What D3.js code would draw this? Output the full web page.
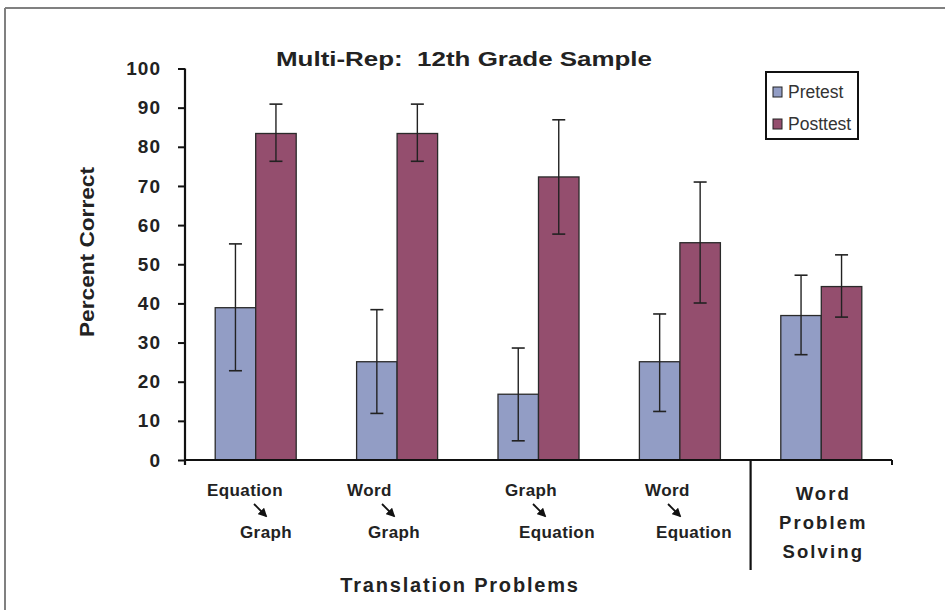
<!DOCTYPE html>
<html><head><meta charset="utf-8">
<script src="https://cdn.jsdelivr.net/npm/d3@7"></script>
<style>
body{margin:0;background:#fff;}
svg text{font-family:"Liberation Sans",Arial,Helvetica,sans-serif;}
</style></head>
<body><svg id="c" width="945" height="610"></svg>
<script>
const categories = ["EqGraph","WordGraph","GraphEq","WordEq","WPS"];
const series = ["Pretest","Posttest"];
const pretest = [38.9, 25.1, 16.8, 25.1, 36.9];
const posttest = [83.4, 83.4, 72.3, 55.5, 44.3];
const preLow = [22.8, 11.9, 4.9, 12.4, 26.9];
const preHigh = [55.2, 38.4, 28.6, 37.3, 47.2];
const postLow = [76.3, 76.3, 57.7, 40.1, 36.5];
const postHigh = [90.9, 90.9, 86.9, 71.0, 52.4];
const yTicks = [0,10,20,30,40,50,60,70,80,90,100];
const labelTop = ["Equation","Word","Graph","Word"];
const labelBottom = ["Graph","Graph","Equation","Equation"];
const wpsLabel = ["Word","Problem","Solving"];
const colors = ["#929dc5","#944e6e"];

const svg = d3.select("#c");
const defs = svg.append("defs");
defs.append("marker").attr("id","ah").attr("viewBox","0 0 10 10").attr("refX",8).attr("refY",5)
  .attr("markerWidth",5).attr("markerHeight",5).attr("orient","auto")
  .append("path").attr("d","M0,0L10,5L0,10z").attr("fill","#111");

// frame
svg.append("line").attr("x1",5).attr("x2",945).attr("y1",8).attr("y2",8).attr("stroke","#808080").attr("stroke-width",2);
svg.append("line").attr("x1",5).attr("x2",5).attr("y1",8).attr("y2",610).attr("stroke","#808080").attr("stroke-width",2);

const L=185, R=892, T=68.5, B=460;
const x0 = d3.scaleBand().domain(categories).range([L,R]).padding(0);
const x1 = d3.scaleBand().domain(series).range([30.2, 111.2]).padding(0);
const y = d3.scaleLinear().domain([0,100]).range([B,T]);

// bars
const rows = categories.map((c,i)=>({c, vals:[
  {s:"Pretest", v:pretest[i], lo:preLow[i], hi:preHigh[i]},
  {s:"Posttest", v:posttest[i], lo:postLow[i], hi:postHigh[i]}]}));
const g = svg.append("g");
const grp = g.selectAll("g.grp").data(rows).join("g").attr("transform",d=>`translate(${x0(d.c)},0)`);
grp.selectAll("rect").data(d=>d.vals).join("rect")
  .attr("x",d=>x1(d.s)).attr("width",x1.bandwidth()).attr("y",d=>y(d.v)).attr("height",d=>B-y(d.v))
  .attr("fill",(d,i)=>colors[i]).attr("stroke","#2a2a2a").attr("stroke-width",1.3);
const eb = grp.selectAll("g.eb").data(d=>d.vals).join("g")
  .attr("transform",d=>`translate(${x1(d.s)+x1.bandwidth()/2},0)`);
eb.append("line").attr("y1",d=>y(d.lo)).attr("y2",d=>y(d.hi)).attr("stroke","#222").attr("stroke-width",1.4);
eb.append("line").attr("x1",-6.5).attr("x2",6.5).attr("y1",d=>y(d.hi)).attr("y2",d=>y(d.hi)).attr("stroke","#222").attr("stroke-width",1.6);
eb.append("line").attr("x1",-6.5).attr("x2",6.5).attr("y1",d=>y(d.lo)).attr("y2",d=>y(d.lo)).attr("stroke","#222").attr("stroke-width",1.6);

// y axis
const ya = svg.append("g").attr("transform",`translate(${L},0)`)
  .call(d3.axisLeft(y).tickValues(yTicks).tickSize(7).tickSizeOuter(0).tickPadding(17));
ya.select(".domain").attr("stroke","#111").attr("stroke-width",2.2).attr("d",`M0,${T}V${B+5}`);
ya.selectAll(".tick line").attr("stroke","#111").attr("stroke-width",2);
ya.selectAll(".tick text").attr("font-size",19).attr("font-weight","bold").attr("fill","#222")
  .style("letter-spacing","1px")
  .style("font-family","'Liberation Sans',Arial,sans-serif");

// x axis line
svg.append("line").attr("x1",L-1).attr("x2",R).attr("y1",B).attr("y2",B).attr("stroke","#111").attr("stroke-width",2.2);
svg.append("line").attr("x1",R).attr("x2",R).attr("y1",B).attr("y2",B+5).attr("stroke","#111").attr("stroke-width",2);
// divider
const divX = x0("WPS");
svg.append("line").attr("x1",divX).attr("x2",divX).attr("y1",B).attr("y2",570).attr("stroke","#111").attr("stroke-width",2.2);

// category labels
const lbl = svg.append("g").attr("font-weight","bold").attr("font-size",17).attr("fill","#222");
const topOff=[22,20.6,37.2,35.8], botOff=[55,41.6,51.2,46.8], arrOff=[69,55.6,65.2,58.8];
categories.slice(0,4).forEach((c,i)=>{
  const cx = x0(c);
  lbl.append("text").attr("x",cx+topOff[i]).attr("y",496).text(labelTop[i]).style("letter-spacing","0.4px");
  lbl.append("text").attr("x",cx+botOff[i]).attr("y",538).text(labelBottom[i]).style("letter-spacing","0.4px");
  const ax = cx+arrOff[i];
  svg.append("line").attr("x1",ax).attr("y1",504).attr("x2",ax+12).attr("y2",516)
    .attr("stroke","#111").attr("stroke-width",1.8).attr("marker-end","url(#ah)");
});
const wps = svg.append("g").attr("font-weight","bold").attr("font-size",18.5).attr("fill","#222").attr("text-anchor","middle");
wpsLabel.forEach((t,i)=>{
  wps.append("text").attr("x",x0("WPS")+x0.bandwidth()/2+2).attr("y",500+i*29).text(t).style("letter-spacing","2.1px");
});

// axis titles
svg.append("text").attr("x",460).attr("y",592).attr("text-anchor","middle").attr("font-weight","bold")
  .attr("font-size",20).attr("fill","#222").style("letter-spacing","1.8px").text("Translation Problems");
svg.append("text").attr("transform","translate(94,252) rotate(-90)").attr("text-anchor","middle").attr("font-weight","bold")
  .attr("font-size",21).attr("fill","#222").attr("textLength",170).attr("lengthAdjust","spacingAndGlyphs").text("Percent Correct");
svg.append("text").attr("x",464).attr("y",66).attr("text-anchor","middle").attr("font-weight","bold")
  .attr("font-size",20.5).attr("fill","#222").attr("textLength",376).attr("lengthAdjust","spacingAndGlyphs")
  .style("white-space","pre").text("Multi-Rep:  12th Grade Sample");

// legend
const lg = svg.append("g");
lg.append("rect").attr("x",766).attr("y",72).attr("width",92).attr("height",67).attr("fill","#fff").attr("stroke","#111").attr("stroke-width",2);
series.forEach((s,i)=>{
  lg.append("rect").attr("x",773).attr("y",87+i*32).attr("width",9).attr("height",10).attr("fill",colors[i]).attr("stroke","#222").attr("stroke-width",1);
  lg.append("text").attr("x",788).attr("y",98+i*32).attr("font-size",17.5).attr("fill","#333").text(s);
});
</script></body></html>
